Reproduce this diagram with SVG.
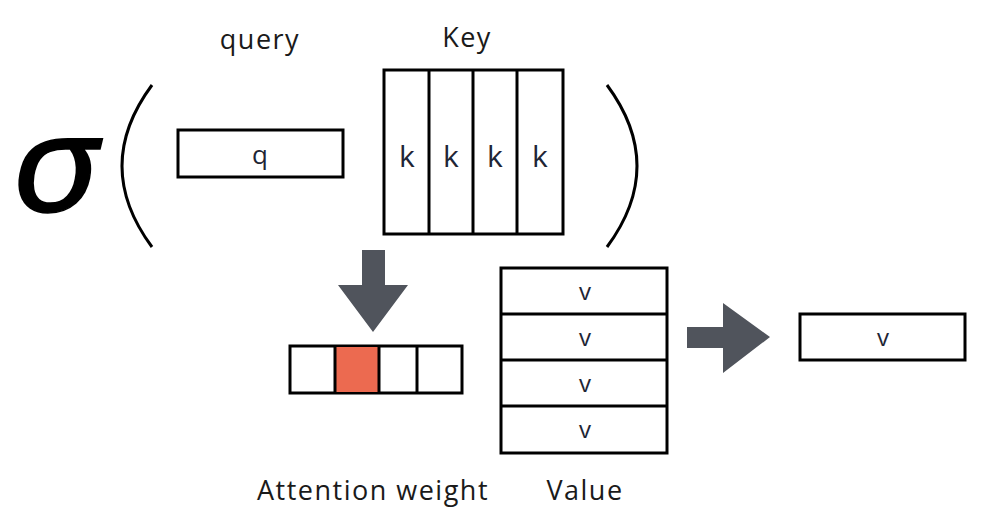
<svg xmlns="http://www.w3.org/2000/svg" width="999" height="527" viewBox="0 0 999 527">
<style>
.box{fill:#fff;stroke:#000;stroke-width:3}
.lbl{font-family:"Open Sans","Noto Sans",sans-serif;fill:#1a1a1a;font-size:27px;letter-spacing:1.5px;text-anchor:middle}
.cell{font-family:"Open Sans","Noto Sans",sans-serif;fill:#1e2535;text-anchor:middle}
.paren{fill:none;stroke:#000;stroke-width:3}
.arr{fill:#50545c}
.div{stroke:#000;stroke-width:3}
</style>
<rect width="999" height="527" fill="#fff"/>
<g id="sigma">
<text transform="translate(54,212) scale(1.12,1)" x="0" y="0" font-family="Noto Sans, sans-serif" font-style="italic" font-size="136" text-anchor="middle" fill="#000" stroke="#000" stroke-width="1.5">σ</text>
</g>
<g id="parens">
<path class="paren" d="M152,85 Q92,166 152,247"/>
<path class="paren" d="M607,85 Q667,166 607,247"/>
</g>
<g id="query">
<text class="lbl" x="260" y="49">query</text>
<rect class="box" x="178" y="130" width="165" height="47"/>
<text class="cell" x="260" y="164" font-size="26">q</text>
</g>
<g id="key">
<text class="lbl" x="467" y="47">Key</text>
<rect class="box" x="384" y="70" width="179" height="164"/>
<line class="div" x1="429" y1="70" x2="429" y2="234"/>
<line class="div" x1="473" y1="70" x2="473" y2="234"/>
<line class="div" x1="517" y1="70" x2="517" y2="234"/>
<text class="cell" x="407" y="167" font-size="30">k</text>
<text class="cell" x="451" y="167" font-size="30">k</text>
<text class="cell" x="495" y="167" font-size="30">k</text>
<text class="cell" x="540" y="167" font-size="30">k</text>
</g>
<g id="connectors">
<polygon class="arr" points="362,250 385,250 385,285 408,285 373,332 338,285 362,285"/>
<polygon class="arr" points="687,327 723,327 723,303 770,337 723,373 723,348 687,348"/>
</g>
<g id="attention">
<rect class="box" x="290" y="346" width="172" height="47"/>
<rect x="336" y="347" width="43" height="45" fill="#ec6a50"/>
<line class="div" x1="335" y1="346" x2="335" y2="393"/>
<line class="div" x1="379" y1="346" x2="379" y2="393"/>
<line class="div" x1="417" y1="346" x2="417" y2="393"/>
<text class="lbl" x="373" y="500">Attention weight</text>
</g>
<g id="value">
<rect class="box" x="501" y="268" width="166" height="185"/>
<line class="div" x1="501" y1="314" x2="667" y2="314"/>
<line class="div" x1="501" y1="360" x2="667" y2="360"/>
<line class="div" x1="501" y1="406" x2="667" y2="406"/>
<text class="cell" x="585" y="300" font-size="24">v</text>
<text class="cell" x="585" y="346" font-size="24">v</text>
<text class="cell" x="585" y="392" font-size="24">v</text>
<text class="cell" x="585" y="438" font-size="24">v</text>
<text class="lbl" x="585" y="500">Value</text>
</g>
<g id="output">
<rect class="box" x="800" y="314" width="165" height="46"/>
<text class="cell" x="883" y="346" font-size="24">v</text>
</g>
</svg>
